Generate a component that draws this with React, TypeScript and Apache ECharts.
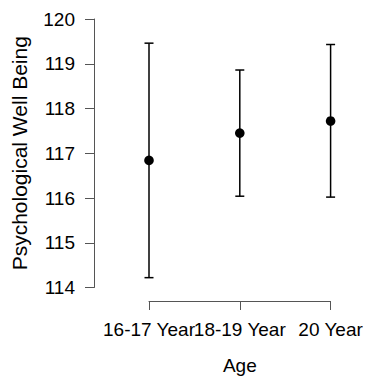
import React, { useEffect, useRef } from "react";
import * as echarts from "echarts";

const categories = ["16-17 Year", "18-19 Year", "20 Year"];
const means = [116.84, 117.45, 117.72];
const lower = [114.22, 116.04, 116.02];
const upper = [119.46, 118.86, 119.43];
const yTicks = { min: 114, max: 120, interval: 1 };

const FONT = "'Liberation Sans', Arial, Helvetica, sans-serif";

export default function App() {
  const ref = useRef<HTMLDivElement>(null);
  useEffect(() => {
    document.body.style.margin = "0";
    document.body.style.overflow = "hidden";
    if (!ref.current) return;
    const chart = echarts.init(ref.current, null, { renderer: "svg" });
    const data = categories.map((_, i) => [i, means[i], lower[i], upper[i]]);
    chart.setOption({
      animation: false,
      backgroundColor: "#ffffff",
      textStyle: { fontFamily: FONT },
      grid: { left: 149, right: 35, top: 19, bottom: 88, containLabel: false },
      xAxis: {
        type: "category",
        data: categories,
        boundaryGap: false,
        offset: 13.5,
        name: "Age",
        nameLocation: "middle",
        nameGap: 55,
        nameTextStyle: { color: "#000", fontSize: 19, fontFamily: FONT },
        axisLine: { show: true, lineStyle: { color: "#555", width: 1 } },
        axisTick: { show: true, length: 9, alignWithLabel: true, lineStyle: { color: "#555", width: 1 } },
        axisLabel: { interval: 0, margin: 19, color: "#000", fontSize: 19, fontFamily: FONT },
        splitLine: { show: false },
      },
      yAxis: {
        type: "value",
        min: yTicks.min,
        max: yTicks.max,
        interval: yTicks.interval,
        offset: 55,
        name: "Psychological Well Being",
        nameLocation: "middle",
        nameGap: 64,
        nameTextStyle: { color: "#000", fontSize: 21, fontFamily: FONT },
        axisLine: { show: true, lineStyle: { color: "#555", width: 1 } },
        axisTick: { show: true, length: 9, lineStyle: { color: "#555", width: 1 } },
        axisLabel: { margin: 19, color: "#000", fontSize: 19, fontFamily: FONT },
        splitLine: { show: false },
      },
      series: [
        {
          type: "custom",
          clip: false,
          data,
          renderItem: (params: any, api: any) => {
            const x = api.value(0);
            const m = api.coord([x, api.value(1)]);
            const lo = api.coord([x, api.value(2)]);
            const hi = api.coord([x, api.value(3)]);
            const cap = 4.5;
            const ls = { stroke: "#000", lineWidth: 1.5 };
            return {
              type: "group",
              children: [
                { type: "line", shape: { x1: lo[0], y1: lo[1], x2: hi[0], y2: hi[1] }, style: ls },
                { type: "line", shape: { x1: hi[0] - cap, y1: hi[1], x2: hi[0] + cap, y2: hi[1] }, style: ls },
                { type: "line", shape: { x1: lo[0] - cap, y1: lo[1], x2: lo[0] + cap, y2: lo[1] }, style: ls },
                { type: "circle", shape: { cx: m[0], cy: m[1], r: 4.8 }, style: { fill: "#000" } },
              ],
            };
          },
        },
      ],
    });
    return () => chart.dispose();
  }, []);
  return <div ref={ref} style={{ width: 366, height: 380 }} />;
}
